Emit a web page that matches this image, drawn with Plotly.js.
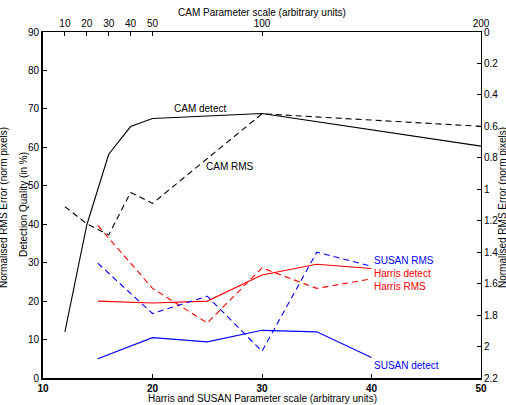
<!DOCTYPE html>
<html>
<head>
<meta charset="utf-8">
<script src="https://cdn.plot.ly/plotly-3.0.1.min.js"></script>
<style>html,body{margin:0;padding:0;background:#fff;}#chart{width:506px;height:405px;}</style>
</head>
<body>
<div id="chart"></div>
<script>
// Harris / SUSAN parameter scale (bottom axis)
var hsScale = [15, 20, 25, 30, 35, 40];
var harrisDetect = [20.0, 19.5, 20.0, 26.8, 29.6, 28.5];
var harrisRMS = [1.23, 1.63, 1.85, 1.50, 1.63, 1.57];
var susanDetect = [5.0, 10.5, 9.4, 12.4, 12.0, 5.3];
var susanRMS = [1.47, 1.79, 1.68, 2.03, 1.40, 1.49];
// CAM parameter scale (top axis)
var camScale = [10, 20, 30, 40, 50, 100, 200];
var camDetect = [12.0, 39.8, 58.2, 65.4, 67.5, 68.8, 60.3];
var camRMS = [1.11, 1.22, 1.29, 1.02, 1.09, 0.52, 0.60];
// tick labels
var bottomTicks = [10, 20, 30, 40, 50];
var topTicks = [10, 20, 30, 40, 50, 100, 200];
var leftTicks = [0, 10, 20, 30, 40, 50, 60, 70, 80, 90];
var rightTicks = [0, 0.2, 0.4, 0.6, 0.8, 1, 1.2, 1.4, 1.6, 1.8, 2, 2.2];
var rightTickText = ['0', '0.2', '0.4', '0.6', '0.8', '1', '1.2', '1.4', '1.6', '1.8', '2', '2.2'];

var BLUE = '#0000ff', RED = '#ff0000', BLACK = '#000000';
var DASH = '6px,4px';
var FONT = 'Liberation Sans, Arial, Helvetica, sans-serif';

var traces = [
  {x: camScale, y: camDetect, xaxis: 'x2', yaxis: 'y', mode: 'lines', line: {color: BLACK, width: 1.1}},
  {x: camScale, y: camRMS, xaxis: 'x2', yaxis: 'y2', mode: 'lines', line: {color: BLACK, width: 1.1, dash: DASH}},
  {x: hsScale, y: harrisDetect, xaxis: 'x', yaxis: 'y', mode: 'lines', line: {color: RED, width: 1.1}},
  {x: hsScale, y: harrisRMS, xaxis: 'x', yaxis: 'y2', mode: 'lines', line: {color: RED, width: 1.1, dash: DASH}},
  {x: hsScale, y: susanDetect, xaxis: 'x', yaxis: 'y', mode: 'lines', line: {color: BLUE, width: 1.1}},
  {x: hsScale, y: susanRMS, xaxis: 'x', yaxis: 'y2', mode: 'lines', line: {color: BLUE, width: 1.1, dash: DASH}}
];

function ann(text, x, y, color, xanchor) {
  return {text: text, x: x, y: y, xref: 'x', yref: 'y', showarrow: false,
    xanchor: xanchor || 'left', yanchor: 'middle', font: {family: FONT, size: 10, color: color}};
}
function titleAnn(text, x, y, xs, ys, angle) {
  return {text: text, x: x, y: y, xref: 'paper', yref: 'paper', showarrow: false,
    xanchor: 'center', yanchor: 'middle', xshift: xs, yshift: ys, textangle: angle || 0,
    font: {family: FONT, size: 10, color: BLACK}};
}

var layout = {
  width: 506, height: 405,
  margin: {l: 43, r: 25, t: 32, b: 27, pad: 0},
  paper_bgcolor: '#fff', plot_bgcolor: '#fff',
  showlegend: false,
  font: {family: FONT, size: 10, color: BLACK},
  xaxis: {range: [10, 50], tickvals: bottomTicks, ticks: 'inside', ticklen: 4, tickcolor: BLACK,
    showline: true, linecolor: BLACK, linewidth: 2, showgrid: false, zeroline: false,
    tickfont: {family: FONT, size: 10, weight: 'bold'}, anchor: 'y'},
  xaxis2: {range: [0, 200], tickvals: topTicks, ticks: 'inside', ticklen: 4, tickcolor: BLACK,
    showline: true, linecolor: BLACK, linewidth: 1, showgrid: false, zeroline: false,
    overlaying: 'x', side: 'top', anchor: 'y', tickfont: {family: FONT, size: 10}},
  yaxis: {range: [0, 90], tickvals: leftTicks, ticks: 'inside', ticklen: 4, tickcolor: BLACK,
    showline: true, linecolor: BLACK, linewidth: 2, showgrid: false, zeroline: false,
    tickfont: {family: FONT, size: 10}},
  yaxis2: {range: [2.2, 0], tickvals: rightTicks, ticktext: rightTickText, ticks: 'inside', ticklen: 4,
    tickcolor: BLACK, showline: true, linecolor: BLACK, linewidth: 1, showgrid: false, zeroline: false,
    overlaying: 'y', side: 'right', anchor: 'x', tickfont: {family: FONT, size: 10}},
  annotations: [
    ann('CAM detect', 24.35, 70.0, BLACK, 'center'),
    ann('CAM RMS', 27.1, 54.9, BLACK, 'center'),
    ann('SUSAN RMS', 40.0, 30.5, BLUE),
    ann('Harris detect', 40.0, 27.3, RED),
    ann('Harris RMS', 40.0, 23.7, RED),
    ann('SUSAN detect', 40.0, 3.3, BLUE),
    titleAnn('Harris and SUSAN Parameter scale (arbitrary units)', 0.5, 0, 0, -20),
    titleAnn('CAM Parameter scale (arbitrary units)', 0.5, 1, 0, 20),
    titleAnn('Detection Quality (in %)', 0, 0.5, -20, 0, -90),
    titleAnn('Normalised RMS Error (norm pixels)', 0, 0.5, -40, -3, -90),
    titleAnn('Normalised RMS Error (norm pixels)', 1, 0.5, 21, -3, -90)
  ]
};

Plotly.newPlot('chart', traces, layout, {staticPlot: true, displayModeBar: false});
</script>
</body>
</html>
